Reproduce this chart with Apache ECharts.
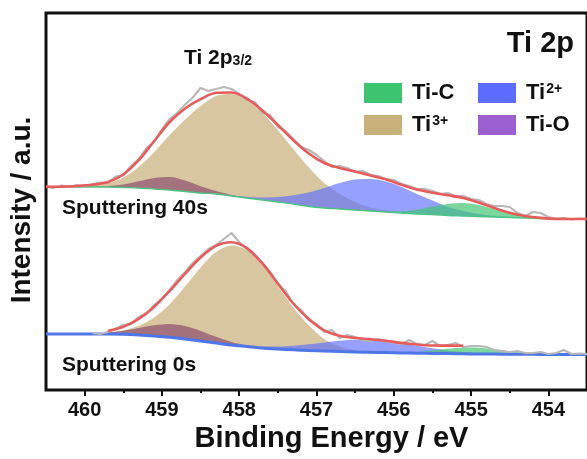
<!DOCTYPE html>
<html><head><meta charset="utf-8">
<script src="https://cdn.jsdelivr.net/npm/echarts@6/dist/echarts.min.js"></script>
<style>html,body{margin:0;padding:0;background:#fff;}#c{width:587px;height:459px;}</style>
</head><body><div id="c"></div>
<script>
// ---------- data (binding energy in eV, intensity in arbitrary units) ----------
const energyFit = [460.5, 460.3, 460.1, 459.9, 459.7, 459.5, 459.3, 459.1, 458.9, 458.7, 458.5, 458.3, 458.1, 457.9, 457.7, 457.5, 457.3, 457.1, 456.9, 456.7, 456.5, 456.3, 456.1, 455.9, 455.7, 455.5, 455.3, 455.1, 454.9, 454.7, 454.5, 454.3, 454.1, 453.9, 453.7, 453.5];
const energyRaw = [460.5, 460.4, 460.3, 460.2, 460.1, 460.0, 459.9, 459.8, 459.7, 459.6, 459.5, 459.4, 459.3, 459.2, 459.1, 459.0, 458.9, 458.8, 458.7, 458.6, 458.5, 458.4, 458.3, 458.2, 458.1, 458.0, 457.9, 457.8, 457.7, 457.6, 457.5, 457.4, 457.3, 457.2, 457.1, 457.0, 456.9, 456.8, 456.7, 456.6, 456.5, 456.4, 456.3, 456.2, 456.1, 456.0, 455.9, 455.8, 455.7, 455.6, 455.5, 455.4, 455.3, 455.2, 455.1, 455.0, 454.9, 454.8, 454.7, 454.6, 454.5, 454.4, 454.3, 454.2, 454.1, 454.0, 453.9, 453.8, 453.7, 453.6, 453.5];
const xTicks = [454, 455, 456, 457, 458, 459, 460];
const xMinorTicks = [454.5, 455.5, 456.5, 457.5, 458.5, 459.5];

// Sputtering 40s (upper spectrum)
const base40 = [203, 203, 203, 203, 203, 202.5, 202, 201, 200, 198.5, 197, 196, 194, 192, 190, 188, 186, 183.5, 182, 181, 180, 179, 178, 177, 176, 175.5, 174.5, 174, 173.5, 173, 172.5, 172, 171.5, 171, 171, 171];
const ti3_40 = [0.1, 0.4, 1, 2, 4, 10, 21, 37, 55, 72, 87, 98, 102, 98, 87, 72, 55, 39, 25, 15, 8, 3.5, 1.5, 0.5, 0.2, 0, 0, 0, 0, 0, 0, 0, 0, 0, 0, 0];
const tiO_40 = [0, 0, 0, 0.2, 1, 3, 6.8, 11, 13, 11, 6.8, 3, 1, 0.2, 0, 0, 0, 0, 0, 0, 0, 0, 0, 0, 0, 0, 0, 0, 0, 0, 0, 0, 0, 0, 0, 0];
const ti2_40 = [0, 0, 0, 0, 0, 0, 0, 0, 0, 0, 0, 0.2, 0.5, 1.2, 2.5, 5, 8.7, 14, 20, 26, 30.4, 32, 30.4, 26, 20, 14, 8.7, 5, 2.5, 1.2, 0.5, 0.2, 0, 0, 0, 0];
const tiC_40 = [0, 0, 0, 0, 0, 0, 0, 0, 0, 0, 0, 0, 0, 0, 0, 0, 0, 0, 0, 0, 0, 0, 0.6, 1.8, 4.2, 7.9, 11.5, 13, 11.5, 7.9, 4.2, 1.8, 0.6, 0.1, 0, 0];
const fit40 = [203.1, 203.4, 204, 205.2, 208, 215.5, 229.8, 249, 268, 281.5, 290.8, 297.2, 297.5, 291.4, 279.5, 265, 249.7, 236.5, 227, 222, 218.4, 214.5, 210.5, 205.3, 200.4, 197.4, 194.7, 192, 187.5, 182.1, 177.2, 174, 172.1, 171.1, 171, 171];
const raw40 = [203.6, 202.2, 204.4, 203.2, 205, 203.5, 205.7, 207.4, 207, 213.3,
  214.5, 224, 230.8, 242, 248, 260.7, 271, 277.2, 285.5, 292.5,
  302, 299, 301, 303, 301, 296, 290, 288, 277, 275,
  263, 259, 251, 243, 240, 235, 229, 223, 224, 222,
  218, 219, 215, 214, 211, 210, 206, 204, 201, 201,
  199, 196, 197, 194, 194, 191, 190, 186, 184, 184,
  183, 177, 174, 178, 177, 173, 171, 172, 170.5, 171.5, 171];

// Sputtering 0s (lower spectrum)
const base0 = [56, 56, 56, 56, 56, 55.7, 55, 54, 52.7, 51, 49, 47, 45, 43.5, 42, 41, 40.2, 39.5, 39, 38.5, 38, 37.7, 37.4, 37, 36.8, 36.6, 36.4, 36.2, 36, 35.9, 35.8, 35.7, 35.6, 35.5, 35.5, 35.5];
const ti3_0 = [0, 0, 0.2, 0.5, 1.6, 4, 9.2, 18.5, 33.1, 52.4, 73.4, 90.9, 99.6, 96.6, 82.9, 63, 42.3, 25.2, 12, 5, 1.8, 0.6, 0.2, 0, 0, 0, 0, 0, 0, 0, 0, 0, 0, 0, 0, 0];
const tiO_0 = [0, 0, 0.1, 0.5, 1.5, 3.6, 7, 10.8, 13.3, 12.9, 10.1, 6.2, 3.1, 1.2, 0.4, 0.1, 0, 0, 0, 0, 0, 0, 0, 0, 0, 0, 0, 0, 0, 0, 0, 0, 0, 0, 0, 0];
const ti2_0 = [0, 0, 0, 0, 0, 0, 0, 0, 0, 0, 0, 0, 0, 0.6, 1.3, 2.4, 4, 6.2, 8.6, 10.7, 12.2, 12.5, 11.6, 9.7, 7.4, 5.1, 3.2, 1.8, 0.9, 0.4, 0.2, 0, 0, 0, 0, 0];
const tiC_0 = [0, 0, 0, 0, 0, 0, 0, 0, 0, 0, 0, 0, 0, 0, 0, 0, 0, 0, 0, 0, 0, 0, 0, 0.4, 1.3, 2.8, 4.8, 6.3, 6.3, 4.8, 2.8, 1.3, 0.4, 0.1, 0, 0];
const fit0 = [null, null, null, null, 59.1, 63.3, 71.2, 83.3, 99.1, 116.3, 132.5, 144.1, 147.7, 141.9, 126.6, 106.5, 86.5, 70.9, 59.6, 54.2, 52, 50.8, 49.2, 47.1, 45.5, 44.5, 44.4, 44.3, null, null, null, null, null, null, null, null];
const raw0 = [null, null, null, null, null, null,
  57, 56, 58, 61, 65, 66, 73, 76, 85, 91,
  100, 110, 118, 127, 134, 141, 145, 151, 157, 148,
  141, 134, 127, 118, 106, 99, 86, 80, 70, 66,
  58, 60, 52, 55, 53, 50, 49, 51, 49, 47,
  46, 50, 46, 45, 49, 44, 45, 47, 43, 44,
  44, 43, 40, 39, 38, 39, 37, 37, 38, 36,
  37, 40, 36, 36.5, 36];

const componentNames = ['Ti3+', 'Ti-O', 'Ti2+', 'Ti-C'];

// ---------- styles ----------
const FONT = '"Liberation Sans", Arial, Helvetica, sans-serif';
const INK = '#111111';
const compStyle = {
  'Ti3+': { legend: '#c8b07a', fill: 'rgba(200,176,122,0.72)' },
  'Ti-O': { legend: '#9b5fcf', fill: 'rgba(120,45,95,0.55)' },
  'Ti2+': { legend: '#5b6cff', fill: 'rgba(91,108,255,0.64)' },
  'Ti-C': { legend: '#3dc46f', fill: 'rgba(61,196,111,0.68)' }
};

const pairs = (xs, ys) => xs.map((x, i) => [x, ys[i]]);
// intensity first so that stacking acts on the intensity dimension
const pairsYX = (xs, ys) => xs.map((x, i) => [ys[i], x]);

function spectrum(tag, base, comps, fit, raw, baseColor, baseWidth) {
  const out = [];
  componentNames.forEach((name, k) => {
    const st = compStyle[name];
    const stackId = tag + '-stack-' + k;
    out.push({
      type: 'line', name: tag + '-bg-' + k, stack: stackId, data: pairsYX(energyFit, base),
      encode: { x: 1, y: 0 },
      smooth: 0.3, symbol: 'none', silent: true, emphasis: { disabled: true },
      lineStyle: { width: 0, opacity: 0 }
    });
    out.push({
      type: 'line', name: name, stack: stackId, data: pairsYX(energyFit, comps[k]),
      encode: { x: 1, y: 0 },
      smooth: 0.3, symbol: 'none', emphasis: { disabled: true },
      color: st.legend, itemStyle: { color: st.legend },
      lineStyle: { width: 0, opacity: 0 },
      areaStyle: { color: st.fill, opacity: 1 }
    });
  });
  out.push({
    type: 'line', name: tag + '-baseline', data: pairs(energyFit, base), smooth: 0.3,
    symbol: 'none', emphasis: { disabled: true },
    lineStyle: { color: baseColor, width: baseWidth }
  });
  out.push({
    type: 'line', name: tag + '-raw', data: pairs(energyRaw, raw),
    symbol: 'none', emphasis: { disabled: true },
    lineStyle: { color: '#b8b8b8', width: 2.2 }
  });
  out.push({
    type: 'line', name: tag + '-fit', data: pairs(energyFit, fit), smooth: 0.3,
    symbol: 'none', emphasis: { disabled: true },
    lineStyle: { color: '#e85b5b', width: 2.6 }
  });
  return out;
}

const series = [].concat(
  spectrum('s40', base40, [ti3_40, tiO_40, ti2_40, tiC_40], fit40, raw40, '#4cc382', 1.3),
  spectrum('s0', base0, [ti3_0, tiO_0, ti2_0, tiC_0], fit0, raw0, '#4f76e8', 3)
);

function legendLabel(name) {
  if (name === 'Ti2+') return '{m|Ti}{s|2+}';
  if (name === 'Ti3+') return '{m|Ti}{s|3+}';
  return '{m|' + name + '}';
}
const legendRich = {
  m: { fontSize: 22, fontWeight: 'bold', color: INK, fontFamily: FONT },
  s: { fontSize: 14, fontWeight: 'bold', color: INK, fontFamily: FONT, verticalAlign: 'top', padding: [0, 0, 0, 1] }
};
const legendPos = { 'Ti-C': [364, 82], 'Ti2+': [478, 82], 'Ti3+': [364, 114], 'Ti-O': [478, 114] };
const legends = ['Ti-C', 'Ti2+', 'Ti3+', 'Ti-O'].map(name => ({
  left: legendPos[name][0], top: legendPos[name][1], padding: 0,
  itemWidth: 38, itemHeight: 20, selectedMode: false,
  data: [{ name: name, icon: 'rect', itemStyle: { color: compStyle[name].legend, borderWidth: 0 } }],
  lineStyle: { width: 0 },
  formatter: legendLabel,
  textStyle: { color: INK, padding: [0, 0, 0, 5], rich: legendRich }
}));

const chart = echarts.init(document.getElementById('c'), null, { renderer: 'canvas' });
chart.setOption({
  animation: false,
  backgroundColor: '#ffffff',
  grid: { left: 46, right: -4, top: 13, bottom: 69, show: true, borderColor: INK, borderWidth: 3 },
  legend: legends,
  xAxis: [
    {
      type: 'value', inverse: true, min: 453.5, max: 460.5,
      axisLine: { show: false },
      axisTick: { show: true, length: 6, lineStyle: { width: 2, color: INK }, customValues: xTicks },
      axisLabel: { customValues: xTicks, margin: 10, fontSize: 20, fontWeight: 'bold', color: INK, fontFamily: FONT },
      splitLine: { show: false },
      name: 'Binding Energy / eV', nameLocation: 'middle', nameGap: 32,
      nameTextStyle: { fontSize: 29, fontWeight: 'bold', color: INK, fontFamily: FONT, padding: [0, 0, 0, 30] }
    },
    {
      type: 'value', inverse: true, min: 453.5, max: 460.5, position: 'bottom',
      axisLine: { show: false },
      axisTick: { show: true, length: 3, lineStyle: { width: 2, color: INK }, customValues: xMinorTicks },
      axisLabel: { show: false }, splitLine: { show: false }
    }
  ],
  yAxis: {
    type: 'value', min: 0, max: 377,
    axisLine: { show: false }, axisTick: { show: false }, axisLabel: { show: false }, splitLine: { show: false },
    name: 'Intensity / a.u.', nameLocation: 'middle', nameGap: 10,
    nameTextStyle: { fontSize: 28, fontWeight: 'bold', color: INK, fontFamily: FONT, padding: [0, 17, 0, 0] }
  },
  graphic: [
    { type: 'text', x: 574, y: 44, style: { text: 'Ti 2p', fill: INK, font: 'bold 29px ' + FONT, align: 'right', verticalAlign: 'middle' } },
    { type: 'text', x: 184, y: 58, style: {
        text: '{a|Ti 2p}{b|3/2}', verticalAlign: 'middle',
        rich: {
          a: { fontSize: 21, fontWeight: 'bold', fill: INK, fontFamily: FONT },
          b: { fontSize: 14, fontWeight: 'bold', fill: INK, fontFamily: FONT, verticalAlign: 'bottom' }
        } } },
    { type: 'text', x: 62, y: 208, style: { text: 'Sputtering 40s', fill: INK, font: 'bold 21px ' + FONT, verticalAlign: 'middle' } },
    { type: 'text', x: 62, y: 365, style: { text: 'Sputtering 0s', fill: INK, font: 'bold 21px ' + FONT, verticalAlign: 'middle' } }
  ],
  series: series
});
</script></body></html>
